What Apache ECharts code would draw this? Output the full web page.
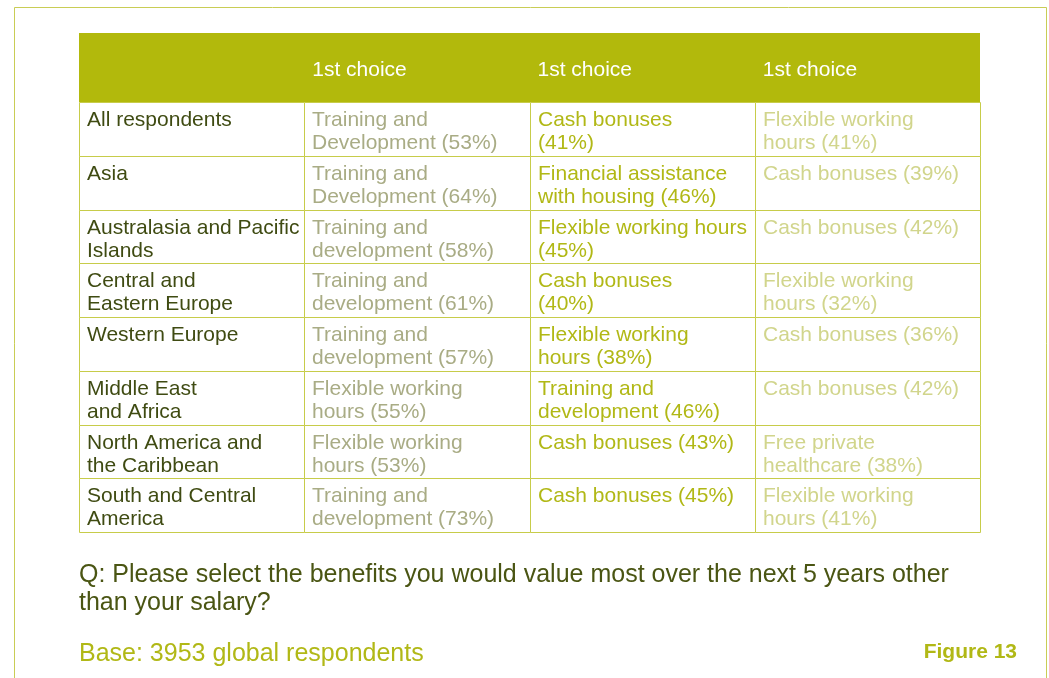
<!DOCTYPE html>
<html>
<head>
<meta charset="utf-8">
<script src="https://cdn.jsdelivr.net/npm/echarts@6/dist/echarts.min.js"></script>
<style>
  html, body { margin: 0; padding: 0; background: #fff; }
  #main { width: 1049px; height: 678px; }
</style>
</head>
<body>
<div id="main"></div>
<script>
// table data
var columns = ['Region', '1st choice', '1st choice', '1st choice'];
var regions = [
  'All respondents',
  'Asia',
  'Australasia and Pacific\nIslands',
  'Central and\nEastern Europe',
  'Western Europe',
  'Middle East\nand Africa',
  'North America and\nthe Caribbean',
  'South and Central\nAmerica'
];
var firstChoice = [
  'Training and\nDevelopment (53%)',
  'Training and\nDevelopment (64%)',
  'Training and\ndevelopment (58%)',
  'Training and\ndevelopment (61%)',
  'Training and\ndevelopment (57%)',
  'Flexible working\nhours (55%)',
  'Flexible working\nhours (53%)',
  'Training and\ndevelopment (73%)'
];
var secondChoice = [
  'Cash bonuses\n(41%)',
  'Financial assistance\nwith housing (46%)',
  'Flexible working hours\n(45%)',
  'Cash bonuses\n(40%)',
  'Flexible working\nhours (38%)',
  'Training and\ndevelopment (46%)',
  'Cash bonuses (43%)',
  'Cash bonuses (45%)'
];
var thirdChoice = [
  'Flexible working\nhours (41%)',
  'Cash bonuses (39%)',
  'Cash bonuses (42%)',
  'Flexible working\nhours (32%)',
  'Cash bonuses (36%)',
  'Cash bonuses (42%)',
  'Free private\nhealthcare (38%)',
  'Flexible working\nhours (41%)'
];
var question = 'Q: Please select the benefits you would value most over the next 5 years other\nthan your salary?';
var baseNote = 'Base: 3953 global respondents';
var figureLabel = 'Figure 13';

var FONT = '"Liberation Sans", Arial, Helvetica, sans-serif';
var olive = '#b2b90c';
var lineColor = '#c7cc4a';
var textColors = ['#3f4b12', '#a9ac85', '#b1b816', '#d1d58c'];
var tableCols = [regions, firstChoice, secondChoice, thirdChoice];

// cells: [col, row]
var cellData = [];
regions.forEach(function (r, row) {
  for (var col = 0; col < columns.length; col++) cellData.push([col, row]);
});
var headerData = [];
for (var c = 1; c < columns.length; c++) headerData.push([c, 0]);

function renderCell(params, api) {
  var col = api.value(0), row = api.value(1);
  var p = api.coord([col, row]);
  var size = api.size([1, 1]);
  // snap the cell edges so neighbouring borders land on the same pixel
  var x0 = Math.round(p[0] - size[0] / 2), x1 = Math.round(p[0] + size[0] / 2);
  var y0 = Math.round(p[1] - size[1] / 2), y1 = Math.round(p[1] + size[1] / 2);
  return {
    type: 'group',
    children: [
      { type: 'rect', shape: { x: x0 + 0.5, y: y0 + 0.5, width: x1 - x0, height: y1 - y0 },
        style: { fill: '#fff', stroke: lineColor, lineWidth: 1 } },
      { type: 'text', x: x0 + 8, y: y0 + 7,
        style: { text: tableCols[col][row], fill: textColors[col], font: '21px ' + FONT, lineHeight: 23 } }
    ]
  };
}

function renderHeader(params, api) {
  var col = api.value(0);
  var p = api.coord([col, 0]);
  var size = api.size([1, 1]);
  return {
    type: 'text', x: p[0] - size[0] / 2 + 8, y: p[1] + 3,
    style: { text: columns[col], fill: '#fff', font: '21px ' + FONT, verticalAlign: 'middle' }
  };
}

var chart = echarts.init(document.getElementById('main'), null, { renderer: 'canvas' });
var hiddenCat = function (idx, data, inverse) {
  return { type: 'category', gridIndex: idx, data: data, inverse: !!inverse, show: false };
};
chart.setOption({
  animation: false,
  backgroundColor: '#fff',
  grid: [
    { left: 79, top: 33, width: 901, height: 69, show: true, backgroundColor: olive, borderWidth: 0 },
    { left: 79, top: 102, width: 901, height: 430 }
  ],
  xAxis: [hiddenCat(0, columns), hiddenCat(1, columns)],
  yAxis: [hiddenCat(0, ['header']), hiddenCat(1, regions, true)],
  series: [
    { type: 'custom', xAxisIndex: 0, yAxisIndex: 0, data: headerData, renderItem: renderHeader },
    { type: 'custom', xAxisIndex: 1, yAxisIndex: 1, data: cellData, renderItem: renderCell }
  ],
  graphic: [
    { type: 'rect', shape: { x: 14.5, y: 7.5, width: 1032, height: 700 },
      style: { fill: 'none', stroke: '#c9cd55', lineWidth: 1 }, z: -1 },
    { type: 'text', x: 79, y: 561,
      style: { text: question, fill: '#4a5513', font: '25px ' + FONT, lineHeight: 28 } },
    { type: 'text', x: 79, y: 642,
      style: { text: baseNote, fill: '#b1b816', font: '25px ' + FONT } },
    { type: 'text', x: 1017, y: 652,
      style: { text: figureLabel, fill: '#b1b816', font: 'bold 21px ' + FONT, align: 'right', verticalAlign: 'middle' } }
  ]
});
</script>
</body>
</html>
